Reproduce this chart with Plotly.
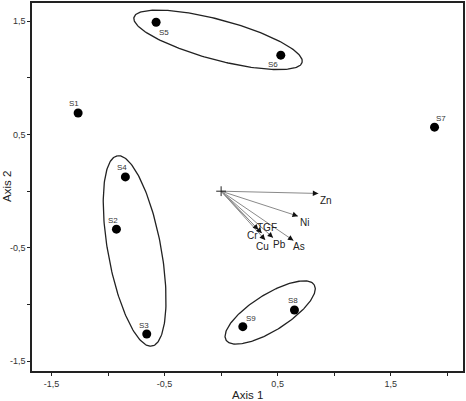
import numpy as np
import plotly.graph_objects as go

# Sample scores
samples = ["S1", "S2", "S3", "S4", "S5", "S6", "S7", "S8", "S9"]
axis1 = [-1.265, -0.926, -0.658, -0.847, -0.575, 0.528, 1.888, 0.649, 0.192]
axis2 = [0.69, -0.335, -1.26, 0.126, 1.49, 1.20, 0.565, -1.048, -1.195]
label_dx = [-4, -3, -3, -3, 8, -8, 6, -1, 8]
label_dy = [-9, -9, -9, -9, 10, 9, -9, -10, -8]

# Variable loadings (arrows)
variables = ["Zn", "Ni", "As", "Pb", "Cu", "Cr", "TGF"]
load1 = [0.86, 0.68, 0.64, 0.46, 0.39, 0.36, 0.33]
load2 = [-0.02, -0.22, -0.435, -0.41, -0.43, -0.37, -0.34]
var_lx = [0.93, 0.74, 0.69, 0.52, 0.37, 0.28, 0.41]
var_ly = [-0.08, -0.28, -0.49, -0.47, -0.49, -0.39, -0.32]

# Group ellipses: center x, center y, semi-major, semi-minor, angle (deg)
ell_cx = [-0.027, -0.765, 0.434]
ell_cy = [1.335, -0.527, -1.07]
ell_a = [0.77, 0.853, 0.46]
ell_b = [0.177, 0.235, 0.16]
ell_ang = [-15.0, 100.4, 32.0]

fig = go.Figure()

t = np.linspace(0, 2 * np.pi, 200)
for cx, cy, a, b, ang in zip(ell_cx, ell_cy, ell_a, ell_b, ell_ang):
    th = np.deg2rad(ang)
    ex = cx + a * np.cos(t) * np.cos(th) - b * np.sin(t) * np.sin(th)
    ey = cy + a * np.cos(t) * np.sin(th) + b * np.sin(t) * np.cos(th)
    fig.add_trace(go.Scatter(x=ex, y=ey, mode="lines",
                             line=dict(color="#222", width=1.3),
                             hoverinfo="skip", showlegend=False))

# arrow shafts
for x1, y1 in zip(load1, load2):
    fig.add_trace(go.Scatter(x=[0, x1], y=[0, y1], mode="lines",
                             line=dict(color="#8a8a8a", width=1),
                             hoverinfo="skip", showlegend=False))

# origin cross
fig.add_trace(go.Scatter(x=[0], y=[0], mode="markers",
                         marker=dict(symbol="cross-thin", size=7,
                                     line=dict(color="#222", width=1)),
                         hoverinfo="skip", showlegend=False))

# sample points
fig.add_trace(go.Scatter(x=axis1, y=axis2, mode="markers",
                         marker=dict(color="black", size=9),
                         showlegend=False))

font = "Liberation Sans, Arial, sans-serif"
for s, x, y, dx, dy in zip(samples, axis1, axis2, label_dx, label_dy):
    fig.add_annotation(x=x, y=y, text=s, showarrow=False, xshift=dx,
                       yshift=-dy, font=dict(family=font, size=8, color="#333"))

for v, x1, y1, lx, ly in zip(variables, load1, load2, var_lx, var_ly):
    n = np.hypot(x1, y1)
    fig.add_annotation(x=x1, y=y1, ax=x1 - 0.06 * x1 / n, ay=y1 - 0.06 * y1 / n,
                       xref="x", yref="y", axref="x", ayref="y",
                       showarrow=True, arrowhead=2, arrowsize=1.1,
                       arrowwidth=1, arrowcolor="#111", text="")
    fig.add_annotation(x=lx, y=ly, text=v, showarrow=False,
                       font=dict(family=font, size=10, color="#222"))

# axis titles
fig.add_annotation(x=0.5, y=0.0, xref="paper", yref="paper", yshift=-24,
                   text="Axis 1", showarrow=False, xanchor="center",
                   yanchor="middle",
                   font=dict(family=font, size=11.5, color="#222"))
fig.add_annotation(x=0.0, y=0.5, xref="paper", yref="paper", xshift=-25,
                   text="Axis 2", showarrow=False, textangle=-90,
                   xanchor="center", yanchor="middle",
                   font=dict(family=font, size=11.5, color="#222"))

tickvals = [-1.5, -1.0, -0.5, 0.0, 0.5, 1.0, 1.5, 2.0]
ticktext = ["-1,5", "", "-0,5", "", "0,5", "", "1,5", ""]

fig.update_xaxes(range=[-1.673, 2.14], tickvals=tickvals, ticktext=ticktext,
                 ticks="outside", ticklen=3, tickwidth=1, tickcolor="#222",
                 showgrid=False, zeroline=False, showline=True, mirror=True,
                 linecolor="#222", linewidth=1.5, automargin=False,
                 tickfont=dict(family=font, size=9, color="#333"))
fig.update_yaxes(range=[-1.586, 1.66], tickvals=tickvals, ticktext=ticktext,
                 ticks="outside", ticklen=3, tickwidth=1, tickcolor="#222",
                 showgrid=False, zeroline=False, showline=True, mirror=True,
                 linecolor="#222", linewidth=1.5, automargin=False,
                 tickfont=dict(family=font, size=9, color="#333"))

fig.update_layout(width=466, height=401, plot_bgcolor="white",
                  paper_bgcolor="white",
                  margin=dict(l=32, r=3, t=3, b=30))

fig.write_html("out.html")
